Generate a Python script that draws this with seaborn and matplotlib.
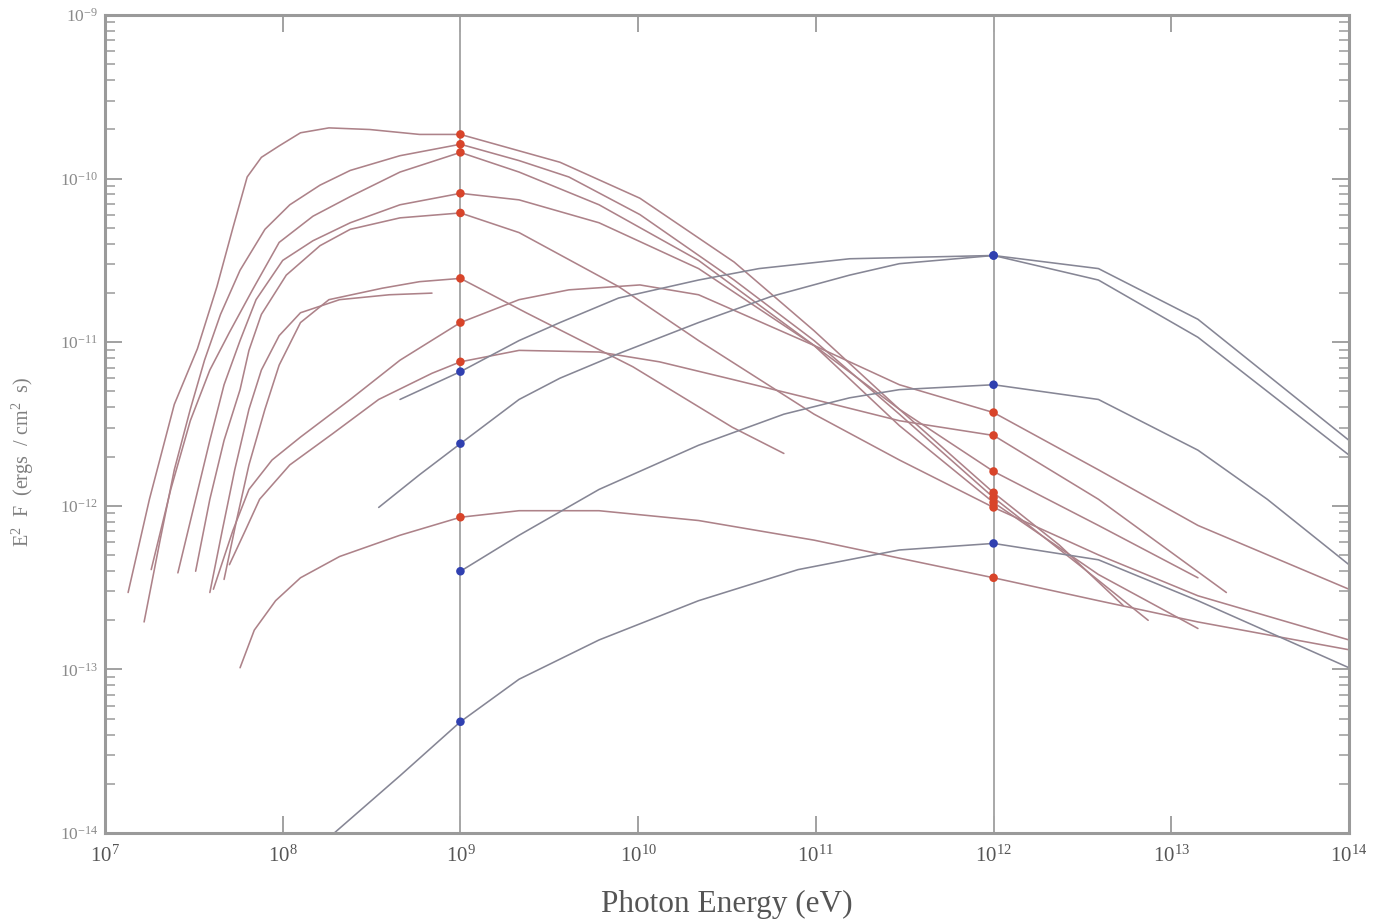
import numpy as np
import pandas as pd
import matplotlib
matplotlib.use("Agg")
import matplotlib.pyplot as plt
import seaborn as sns
from matplotlib.ticker import LogLocator, NullLocator, LogFormatterMathtext

sns.set_theme(style="white")
plt.rcParams["font.family"] = ["Liberation Serif", "DejaVu Serif"]
plt.rcParams["mathtext.default"] = "regular"

# ---------------- data (log10 photon energy [eV], log10 E^2 F [erg/cm^2/s]) ----------------
ra_logE = [7.13, 7.25, 7.39, 7.52, 7.63, 7.72, 7.80, 7.88, 7.98, 8.10, 8.26, 8.49, 8.77, 9.00,
           9.56, 10.01, 10.54, 10.99, 11.47, 12.00, 12.37, 12.73]
ra_logF = [-12.53, -11.96, -11.38, -11.04, -10.66, -10.30, -9.99, -9.87, -9.80, -9.72, -9.69, -9.70,
           -9.73, -9.73, -9.90, -10.12, -10.51, -10.93, -11.41, -11.92, -12.24, -12.61]

rb_logE = [7.22, 7.31, 7.39, 7.48, 7.56, 7.65, 7.76, 7.90, 8.04, 8.21, 8.38, 8.66, 9.00, 9.33,
           9.61, 10.01, 10.54, 10.99, 11.47, 12.00, 12.48, 12.87]
rb_logF = [-12.71, -12.21, -11.78, -11.41, -11.11, -10.83, -10.56, -10.31, -10.16, -10.04, -9.95,
           -9.86, -9.79, -9.89, -9.99, -10.22, -10.62, -10.99, -11.44, -11.95, -12.36, -12.70]

rc_logE = [7.26, 7.37, 7.48, 7.59, 7.70, 7.83, 7.98, 8.17, 8.38, 8.66, 9.00, 9.33, 9.78, 10.34,
           10.99, 11.47, 12.00, 12.59, 13.15]
rc_logF = [-12.39, -11.90, -11.48, -11.17, -10.94, -10.68, -10.39, -10.23, -10.11, -9.96, -9.84,
           -9.96, -10.16, -10.50, -11.02, -11.51, -11.98, -12.42, -12.75]

rd_logE = [7.41, 7.51, 7.59, 7.67, 7.76, 7.85, 8.00, 8.17, 8.38, 8.66, 9.00, 9.33, 9.78, 10.34,
           10.99, 11.47, 12.00, 12.59, 13.15]
rd_logF = [-12.41, -11.96, -11.60, -11.26, -10.99, -10.74, -10.50, -10.38, -10.27, -10.16, -10.09,
           -10.13, -10.27, -10.55, -11.02, -11.41, -11.79, -12.12, -12.44]

re_logE = [7.51, 7.59, 7.67, 7.76, 7.81, 7.88, 8.02, 8.21, 8.38, 8.66, 9.00, 9.33, 9.89, 10.34,
           10.99, 11.47, 12.00, 12.59, 13.15, 14.00]
re_logF = [-12.40, -11.96, -11.60, -11.29, -11.05, -10.83, -10.59, -10.41, -10.31, -10.24, -10.21,
           -10.33, -10.66, -10.99, -11.44, -11.72, -12.01, -12.30, -12.55, -12.82]

rf_logE = [7.67, 7.74, 7.81, 7.90, 7.98, 8.10, 8.26, 8.56, 8.77, 9.00, 9.37, 9.97, 10.53, 10.82]
rf_logF = [-12.45, -12.09, -11.75, -11.41, -11.14, -10.88, -10.74, -10.67, -10.63, -10.61,
           -10.82, -11.15, -11.52, -11.68]

rs_logE = [7.59, 7.66, 7.73, 7.81, 7.88, 7.98, 8.10, 8.32, 8.60, 8.84]
rs_logF = [-12.53, -12.15, -11.78, -11.41, -11.17, -10.96, -10.82, -10.74, -10.71, -10.70]

rg_logE = [7.61, 7.72, 7.81, 7.94, 8.10, 8.38, 8.66, 9.00, 9.33, 9.61, 10.01, 10.34, 10.99, 11.47,
           12.00, 12.59, 13.15, 14.00]
rg_logF = [-12.51, -12.15, -11.90, -11.72, -11.58, -11.35, -11.11, -10.88, -10.74, -10.68, -10.65,
           -10.71, -11.02, -11.26, -11.43, -11.78, -12.12, -12.51]

rh_logE = [7.70, 7.79, 7.87, 8.04, 8.28, 8.54, 8.84, 9.00, 9.33, 9.78, 10.12, 10.54, 10.99, 11.47,
           12.00, 12.59, 13.31]
rh_logF = [-12.36, -12.15, -11.96, -11.75, -11.56, -11.35, -11.19, -11.12, -11.05, -11.06, -11.12,
           -11.23, -11.35, -11.48, -11.57, -11.96, -12.53]

ri_logE = [7.76, 7.84, 7.96, 8.10, 8.32, 8.66, 9.00, 9.33, 9.78, 10.34, 10.99, 11.47, 12.00, 12.59,
           13.15, 14.00]
ri_logF = [-12.99, -12.76, -12.58, -12.44, -12.31, -12.18, -12.07, -12.03, -12.03, -12.09, -12.21,
           -12.32, -12.44, -12.58, -12.71, -12.88]

b1_logE = [8.66, 9.00, 9.33, 9.56, 9.89, 10.34, 10.68, 11.19, 12.00, 12.59, 13.15, 14.00]
b1_logF = [-11.35, -11.18, -10.99, -10.88, -10.73, -10.62, -10.55, -10.49, -10.47, -10.55, -10.86,
           -11.60]

b2_logE = [8.54, 8.77, 9.00, 9.33, 9.56, 9.89, 10.34, 10.75, 11.19, 11.47, 12.00, 12.59, 13.15, 14.00]
b2_logF = [-12.01, -11.81, -11.62, -11.35, -11.22, -11.07, -10.88, -10.72, -10.59, -10.52, -10.47,
           -10.62, -10.97, -11.69]

b3_logE = [9.00, 9.33, 9.78, 10.34, 10.82, 11.19, 11.47, 12.00, 12.59, 13.15, 13.54, 14.00]
b3_logF = [-12.40, -12.18, -11.90, -11.63, -11.44, -11.34, -11.29, -11.26, -11.35, -11.66, -11.96,
           -12.36]

b4_logE = [8.29, 8.66, 9.00, 9.33, 9.78, 10.34, 10.90, 11.47, 12.00, 12.59, 13.15, 14.00]
b4_logF = [-14.00, -13.65, -13.32, -13.06, -12.82, -12.58, -12.39, -12.27, -12.23, -12.33, -12.58,
           -12.99]

ref_logE = [9.0, 12.0]          # energies marked by vertical lines and dots

curves = {
    "ra": (ra_logE, ra_logF, "red"), "rb": (rb_logE, rb_logF, "red"),
    "rc": (rc_logE, rc_logF, "red"), "rd": (rd_logE, rd_logF, "red"),
    "re": (re_logE, re_logF, "red"), "rf": (rf_logE, rf_logF, "red"),
    "rs": (rs_logE, rs_logF, "red"), "rg": (rg_logE, rg_logF, "red"),
    "rh": (rh_logE, rh_logF, "red"), "ri": (ri_logE, ri_logF, "red"),
    "b1": (b1_logE, b1_logF, "blue"), "b2": (b2_logE, b2_logF, "blue"),
    "b3": (b3_logE, b3_logF, "blue"), "b4": (b4_logE, b4_logF, "blue"),
}

rows = []
for name, (le, lf, grp) in curves.items():
    for i, (a, b) in enumerate(zip(le, lf)):
        rows.append(dict(curve=name, group=grp, order=i, logE=a, E=10.0 ** a, F=10.0 ** b))
df = pd.DataFrame(rows)

dots = df[np.isclose(df["logE"].values[:, None], np.array(ref_logE)[None, :]).any(axis=1)]

# ---------------- figure ----------------
W, H = 1373, 924
fig = plt.figure(figsize=(W / 100, H / 100), dpi=100)
ax = fig.add_axes([105 / W, 1 - 833 / H, (1349 - 105) / W, (833 - 15) / H])

for e in ref_logE:
    ax.axvline(10 ** e, color="#a8a8a8", lw=1.4, zorder=1)

line_pal = {"red": "#ad8289", "blue": "#868695"}
sns.lineplot(data=df, x="E", y="F", units="curve", estimator=None, hue="group",
             palette=line_pal, sort=False, legend=False, lw=1.15, ax=ax, zorder=2)

dot_pal = {"red": "#d8442a", "blue": "#3040b0"}
sns.scatterplot(data=dots, x="E", y="F", hue="group", palette=dot_pal, s=38,
                edgecolor="none", legend=False, ax=ax, zorder=4)

ax.set_xscale("log")
ax.set_yscale("log")
ax.set_xlim(1e7, 1e14)
ax.set_ylim(1e-14, 1e-9)

ax.xaxis.set_major_locator(LogLocator(base=10, numticks=20))
ax.xaxis.set_minor_locator(NullLocator())
ax.yaxis.set_major_locator(LogLocator(base=10, numticks=20))
ax.yaxis.set_minor_locator(LogLocator(base=10, subs=np.arange(2, 10), numticks=20))
ax.xaxis.set_major_formatter(LogFormatterMathtext())
ax.yaxis.set_major_formatter(LogFormatterMathtext())

ax.tick_params(which="both", direction="in", left=True, bottom=True, top=True, right=True,
               color="#9a9a9a")
ax.tick_params(which="major", length=12, width=1.3)
ax.tick_params(which="minor", length=7, width=1.1)
ax.tick_params(axis="x", which="major", labelsize=15, labelcolor="#555555", pad=9)
ax.tick_params(axis="y", which="major", labelsize=12.5, labelcolor="#8a8a8a", pad=5)

for s in ax.spines.values():
    s.set_color("#9a9a9a")
    s.set_linewidth(2.2)

ax.set_xlabel("Photon Energy (eV)", fontsize=22.5, color="#555555", labelpad=17)
ax.set_ylabel("")
ax.yaxis.label.set_visible(False)
fig.text(0.017, 1 - 462 / H, r"E$^2$  F  (ergs  / cm$^2$  s)", rotation=90, ha="center",
         va="center", fontsize=14.5, color="#808080")

fig.savefig("out.png", dpi=100, facecolor="white")
